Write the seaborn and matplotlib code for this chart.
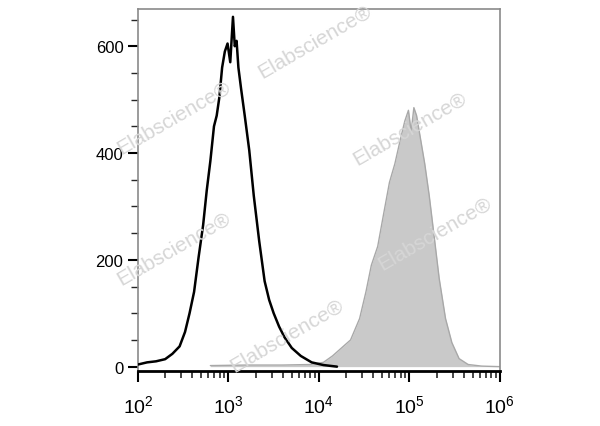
import numpy as np
import pandas as pd
import matplotlib
matplotlib.use("Agg")
import matplotlib.pyplot as plt
import seaborn as sns
from matplotlib.ticker import LogLocator, MultipleLocator, FixedLocator

# Unstained / isotype control (black outline), log10 fluorescence vs count
ctrl_log = [2.00, 2.10, 2.20, 2.30, 2.38, 2.46, 2.52, 2.57, 2.62, 2.67, 2.72, 2.76,
            2.80, 2.84, 2.87, 2.90, 2.93, 2.96, 2.99, 3.02, 3.05, 3.07, 3.09, 3.11,
            3.14, 3.18, 3.23, 3.28, 3.34, 3.40, 3.45, 3.50, 3.56, 3.62, 3.70, 3.80,
            3.92, 4.05, 4.20]
ctrl_cnt = [4, 8, 10, 14, 24, 38, 65, 100, 140, 205, 265, 330,
            385, 450, 470, 505, 560, 590, 605, 570, 655, 600, 610, 560,
            520, 470, 405, 320, 235, 160, 125, 100, 75, 55, 35, 20,
            8, 3, 0]

# Stained sample (grey filled)
stain_log = [2.80, 3.20, 3.60, 3.90, 4.05, 4.15, 4.25, 4.35, 4.45, 4.52, 4.58,
             4.65, 4.72, 4.78, 4.84, 4.90, 4.95, 4.99, 5.02, 5.05, 5.08, 5.12,
             5.17, 5.22, 5.27, 5.33, 5.40, 5.47, 5.55, 5.65, 5.80, 6.00]
stain_cnt = [2, 3, 3, 4, 8, 20, 35, 50, 90, 140, 190,
             225, 290, 345, 380, 425, 460, 480, 440, 485, 470, 430,
             380, 320, 250, 165, 90, 45, 15, 4, 1, 0]

wm_xy = [(0.49, 0.91), (0.10, 0.70), (0.75, 0.67), (0.82, 0.38), (0.10, 0.34), (0.41, 0.10)]

ctrl = pd.DataFrame({"x": np.power(10.0, ctrl_log), "count": ctrl_cnt})
stain = pd.DataFrame({"x": np.power(10.0, stain_log), "count": stain_cnt})

sns.set_style("white")
plt.rcParams["font.family"] = ["Liberation Sans", "DejaVu Sans"]
plt.rcParams["mathtext.fontset"] = "custom"
plt.rcParams["mathtext.rm"] = "Liberation Sans"
plt.rcParams["mathtext.it"] = "Liberation Sans"

fig = plt.figure(figsize=(6, 4.27), dpi=100)
ax = fig.add_axes([0.23, 0.129, 0.603, 0.848])

ax.fill_between(stain["x"], stain["count"], color="#c9c9c9", lw=0, zorder=1)
sns.lineplot(data=stain, x="x", y="count", color="#a8a8a8", lw=1.0, ax=ax, zorder=2)
sns.lineplot(data=ctrl, x="x", y="count", color="black", lw=1.8, ax=ax, zorder=3)

ax.set_xscale("log")
ax.set_xlim(1e2, 1e6)
ax.set_ylim(-8, 670)
ax.set_xlabel("")
ax.set_ylabel("")

ax.xaxis.set_major_locator(FixedLocator([1e2, 1e3, 1e4, 1e5, 1e6]))
ax.xaxis.set_minor_locator(LogLocator(base=10, subs=np.arange(2, 10)))
ax.set_xticklabels([r"$\mathrm{10^2}$", r"$\mathrm{10^3}$", r"$\mathrm{10^4}$",
                    r"$\mathrm{10^5}$", r"$\mathrm{10^6}$"])
ax.yaxis.set_major_locator(FixedLocator([0, 200, 400, 600]))
ax.yaxis.set_minor_locator(MultipleLocator(50))

ax.tick_params(axis="x", which="major", length=8, width=1.5, pad=9, labelsize=14,
               direction="out", bottom=True, colors="black")
ax.tick_params(axis="x", which="minor", length=5, width=1.2, direction="out", bottom=True)
ax.tick_params(axis="y", which="major", length=7, width=1.5, labelsize=12,
               direction="out", left=True, colors="black")
ax.tick_params(axis="y", which="minor", length=5, width=1.0, direction="out", left=True)

for s in ["left", "top", "right"]:
    ax.spines[s].set_color("#8a8a8a")
    ax.spines[s].set_linewidth(1.2)
ax.spines["bottom"].set_color("black")
ax.spines["bottom"].set_linewidth(2)

for (wx, wy) in wm_xy:
    ax.text(wx, wy, "Elabscience\u00ae", transform=ax.transAxes, rotation=30,
            fontsize=15, color="#d6d6d6", ha="center", va="center",
            zorder=4, clip_on=False)

fig.savefig("out.png", dpi=100)
